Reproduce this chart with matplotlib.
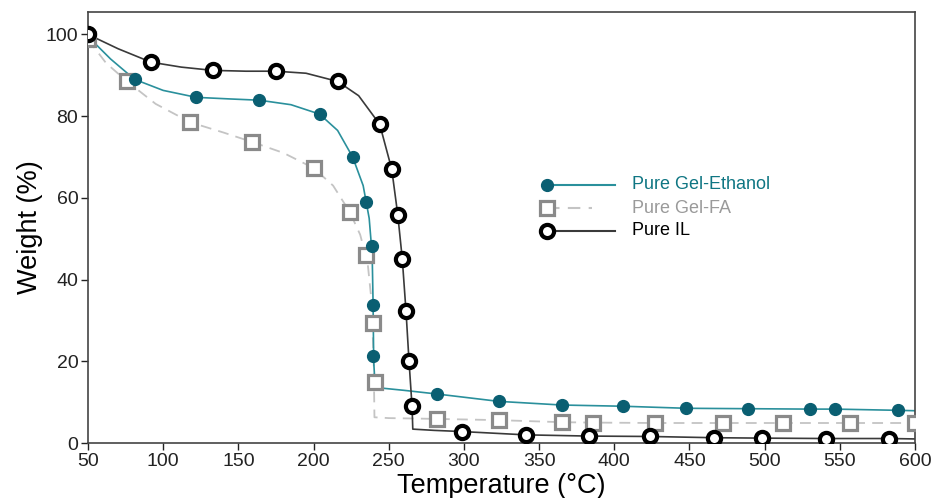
import matplotlib.pyplot as plt

plt.rcParams["font.family"] = ["Liberation Sans", "DejaVu Sans"]

# Marker data
eth_T = [50, 81, 122, 164, 204, 226, 235, 239, 239.6, 239.6, 282, 323, 365, 406, 448, 489, 530, 547, 589]
eth_W = [99.5, 89.0, 84.6, 83.9, 80.5, 70.0, 59.0, 48.3, 33.9, 21.2, 12.0, 10.2, 9.3, 9.0, 8.5, 8.4, 8.3, 8.3, 8.0]

fa_T = [50, 76, 118, 159, 200, 224, 235, 239.6, 241, 282, 323, 365, 386, 427, 472, 512, 557, 600]
fa_W = [98.8, 88.5, 78.5, 73.7, 67.3, 56.6, 45.9, 29.3, 14.9, 5.9, 5.6, 5.1, 5.0, 4.9, 4.9, 4.9, 4.9, 4.9]

il_T = [50, 92, 133, 175, 216, 244, 252, 256, 259, 261.5, 263.5, 265.5, 299, 341, 383, 424, 466, 498, 541, 583]
il_W = [100, 93.2, 91.2, 91.0, 88.5, 78.0, 67.0, 55.9, 45.1, 32.2, 20.0, 9.0, 2.8, 2.0, 1.7, 1.6, 1.3, 1.2, 1.1, 1.1]

# Fitted curves
eth_line_T = [50, 65, 81, 100, 122, 145, 164, 185, 204, 216, 226, 233, 237, 239, 239.6, 240, 241, 260, 282, 323, 365, 406, 448, 489, 530, 547, 589, 600]
eth_line_W = [99.5, 94, 89, 86.3, 84.6, 84.2, 83.9, 82.8, 80.5, 76.5, 70, 63, 55, 46, 34, 20, 13.6, 12.9, 12, 10.2, 9.3, 9.0, 8.5, 8.4, 8.3, 8.3, 8.0, 7.9]

fa_line_T = [50, 62, 76, 95, 118, 140, 159, 180, 200, 213, 224, 231, 236, 238.5, 240, 240.5, 250, 282, 323, 365, 386, 427, 472, 512, 557, 600]
fa_line_W = [98.8, 93, 88.5, 83, 78.5, 76, 73.7, 71, 67.3, 63, 56.6, 51, 44, 35, 20, 6.3, 6.1, 5.9, 5.6, 5.1, 5.0, 4.9, 4.9, 4.9, 4.9, 4.9]

il_line_T = [50, 70, 92, 112, 133, 155, 175, 195, 216, 230, 244, 252, 256, 259, 261.5, 263.5, 265.5, 266, 280, 299, 341, 383, 424, 466, 498, 541, 583, 600]
il_line_W = [100, 96.5, 93.2, 92, 91.2, 91, 91, 90.5, 88.5, 85, 78, 67, 55.9, 45.1, 32.2, 20, 9, 3.4, 3.1, 2.8, 2.0, 1.7, 1.6, 1.3, 1.2, 1.1, 1.1, 1.0]

labels = ["Pure Gel-Ethanol", "Pure Gel-FA", "Pure IL"]
xticks = [50, 100, 150, 200, 250, 300, 350, 400, 450, 500, 550, 600]
yticks = [0, 20, 40, 60, 80, 100]

teal_line = "#2a909c"
teal_mark = "#0a5f72"
teal_text = "#0f7683"
grey_line = "#c4c4c4"
grey_mark = "#8a8a8a"
grey_text = "#9a9a9a"
black_line = "#3a3a3a"

fig = plt.figure(figsize=(9.36, 4.98), dpi=100)
ax = fig.add_axes([0.094, 0.1104, 0.8836, 0.8656])

# curves
ax.plot(fa_line_T, fa_line_W, color=grey_line, lw=1.3, ls=(0, (6, 4)), zorder=2)
ax.plot(eth_line_T, eth_line_W, color=teal_line, lw=1.2, zorder=2)
ax.plot(il_line_T, il_line_W, color=black_line, lw=1.2, zorder=2)

# markers
ax.plot(fa_T, fa_W, ls="none", marker="s", ms=9.5, mfc="white", mec=grey_mark, mew=2.3, zorder=3)
ax.plot(eth_T, eth_W, ls="none", marker="o", ms=8.5, mfc=teal_mark, mec=teal_mark, zorder=4)
ax.plot(il_T, il_W, ls="none", marker="o", ms=9.5, mfc="white", mec="black", mew=3, zorder=5)

ax.set_xlim(50, 600)
ax.set_ylim(0, 105.5)
ax.set_xticks(xticks)
ax.set_yticks(yticks)
ax.tick_params(direction="out", length=5, width=1, labelsize=14, colors="#222222", pad=2)
for s in ax.spines.values():
    s.set_color("#444444")
    s.set_linewidth(1.2)

ax.set_xlabel("Temperature (°C)", fontsize=19.5, labelpad=2)
ax.set_ylabel("Weight (%)", fontsize=19.5, labelpad=2)

# manual legend (marker at the left end of each line)
ly = [0.5986, 0.5452, 0.4919]
tr = ax.transAxes
ax.plot([0.555, 0.637], [ly[0], ly[0]], color=teal_line, lw=1.5, transform=tr)
ax.plot([0.555], [ly[0]], marker="o", ms=8.5, mfc=teal_mark, mec=teal_mark, transform=tr)
ax.plot([0.555, 0.61], [ly[1], ly[1]], color=grey_line, lw=1.5, ls=(0, (6, 4)), transform=tr)
ax.plot([0.555], [ly[1]], marker="s", ms=9.5, mfc="white", mec=grey_mark, mew=2.3, transform=tr)
ax.plot([0.555, 0.637], [ly[2], ly[2]], color=black_line, lw=1.5, transform=tr)
ax.plot([0.555], [ly[2]], marker="o", ms=9.5, mfc="white", mec="black", mew=3, transform=tr)
for y, lab, c in zip(ly, labels, [teal_text, grey_text, "black"]):
    ax.text(0.658, y, lab, color=c, fontsize=13, va="center", ha="left", transform=tr)

fig.savefig("out.png", dpi=100)
